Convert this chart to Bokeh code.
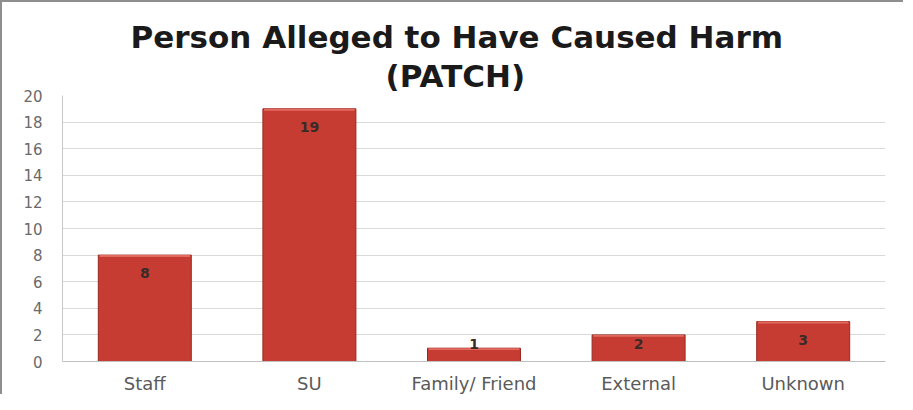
import numpy as np
from bokeh.plotting import figure
from bokeh.models import ColumnDataSource, Title, FixedTicker
from bokeh.core.properties import value
from bokeh.embed import file_html
from bokeh.resources import INLINE

categories = ["Staff", "SU", "Family/ Friend", "External", "Unknown"]
counts = [8, 19, 1, 2, 3]
y_ticks = [0, 2, 4, 6, 8, 10, 12, 14, 16, 18, 20]

vals = np.array(counts, dtype=float)
label_y = np.maximum(vals - 1.35, 1.3)

src = ColumnDataSource(dict(
    cat=categories,
    top=vals,
    hl_bottom=vals - 0.14,
    label=[str(v) for v in counts],
    label_y=label_y,
))

p = figure(
    x_range=categories, y_range=(0, 20),
    width=903, height=394,
    output_backend="svg", toolbar_location=None,
    min_border_left=60, min_border_right=20,
    min_border_top=93, min_border_bottom=33,
    background_fill_color="white", border_fill_color="white",
    styles={"border-top": "2px solid #8e8e8e", "border-left": "2px solid #8e8e8e"},
)
p.x_range.range_padding = 0
p.outline_line_color = None

# titles (first added sits closest to the plot)
p.add_layout(Title(text="(PATCH)", align="left", offset=323,
                   text_font="DejaVu Sans", text_font_size="31px",
                   text_font_style="bold", text_color="#1a1a1a", standoff=3), "above")
p.add_layout(Title(text="Person Alleged to Have Caused Harm", align="left", offset=68,
                   text_font="DejaVu Sans", text_font_size="31px",
                   text_font_style="bold", text_color="#1a1a1a", standoff=0), "above")

# bars
p.vbar(x="cat", top="top", bottom=0, width=0.565, source=src,
       fill_color="#c63c32", line_color="#9a2920", line_width=1)
p.vbar(x="cat", top="top", bottom="hl_bottom", width=0.55, source=src,
       fill_color="#e26a5f", line_color=None)

p.text(x="cat", y="label_y", text="label", source=src,
       text_align="center", text_baseline="middle",
       text_font=value("DejaVu Sans"), text_font_size="14px",
       text_color="#3a2a28", text_font_style="bold")

# axes
p.yaxis.ticker = FixedTicker(ticks=y_ticks)
p.yaxis.major_label_text_font = "DejaVu Sans"
p.yaxis.major_label_text_font_size = "15px"
p.yaxis.major_label_text_color = "#6a6a6a"
p.yaxis.major_label_standoff = 14
p.yaxis.major_tick_line_color = None
p.yaxis.minor_tick_line_color = None
p.yaxis.axis_line_color = "#c8c8c8"

p.xaxis.major_label_text_font = "DejaVu Sans"
p.xaxis.major_label_text_font_size = "18px"
p.xaxis.major_label_text_color = "#5a5a5a"
p.xaxis.major_label_standoff = 5
p.xaxis.major_tick_line_color = None
p.xaxis.axis_line_color = "#c0c0c0"

p.xgrid.grid_line_color = None
p.ygrid.grid_line_color = "#d9d9d9"
p.ygrid.grid_line_width = 1

open("out.html", "w").write(file_html(p, INLINE))
